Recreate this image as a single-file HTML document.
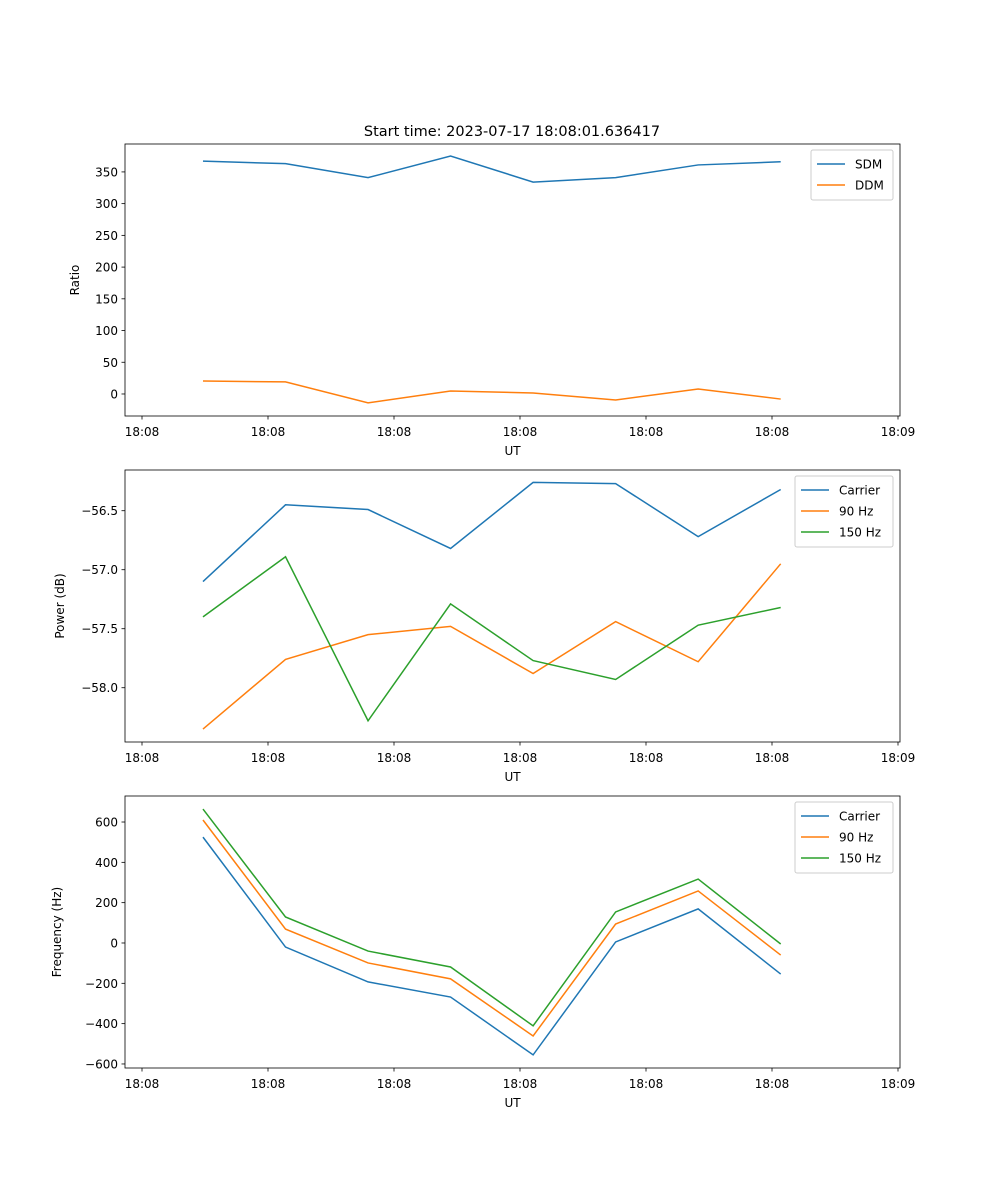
<!DOCTYPE html>
<html><head><meta charset="utf-8"><style>
body{margin:0;background:#fff}
svg{display:block;font-family:"DejaVu Sans","Liberation Sans",sans-serif}
</style></head><body>
<svg id="fig" width="1000" height="1200" viewBox="0 0 1000 1200"></svg>
<script>
const times = [4.84, 11.39, 17.94, 24.49, 31.04, 37.59, 44.14, 50.69];
const xTickVals = [0, 10, 20, 30, 40, 50, 60];
const xTickLabels = ["18:08","18:08","18:08","18:08","18:08","18:08","18:09"];
const sdm = [367, 363, 341, 375, 334, 341, 361, 366];
const ddm = [20.5, 19, -14, 4.7, 1.6, -9.5, 7.9, -8];
const pCarrier = [-57.10, -56.45, -56.49, -56.82, -56.26, -56.27, -56.72, -56.32];
const p90 = [-58.35, -57.76, -57.55, -57.48, -57.88, -57.44, -57.78, -56.95];
const p150 = [-57.40, -56.89, -58.28, -57.29, -57.77, -57.93, -57.47, -57.32];
const fCarrier = [525, -20, -193, -268, -555, 5, 169, -154];
const f90 = [610, 69, -99, -178, -461, 94, 258, -60];
const f150 = [664, 129, -40, -119, -411, 154, 317, -5];
const ticks1 = [0,50,100,150,200,250,300,350];
const ticks2 = [-58.0,-57.5,-57.0,-56.5];
const ticks3 = [-600,-400,-200,0,200,400,600];

const NS="http://www.w3.org/2000/svg";
const svg=document.getElementById('fig');
function mk(tag,attrs,parent){const e=document.createElementNS(NS,tag);for(const k in attrs)e.setAttribute(k,attrs[k]);(parent||svg).appendChild(e);return e;}
const L=125,R=900;
const xs=t=>142+(t-0)*(898-142)/60;
const C=['#1f77b4','#ff7f0e','#2ca02c'];

function panel(name,top,bot,ymin,ymax,yticks,fmt,ylabel,series,labels,legW){
  const g=mk('g',{});
  
  
  const ys=v=>bot-(v-ymin)*(bot-top)/(ymax-ymin);
  xTickVals.forEach((t,i)=>{
    const x=xs(t);
    mk('line',{x1:x,x2:x,y1:bot,y2:bot+3.5,stroke:'#000','stroke-width':0.8},g);
    const tx=mk('text',{x:x,y:bot+20,'text-anchor':'middle','font-size':12},g);tx.textContent=xTickLabels[i];
  });
  yticks.forEach(v=>{
    const y=ys(v);
    mk('line',{x1:L-3.5,x2:L,y1:y,y2:y,stroke:'#000','stroke-width':0.8},g);
    const tx=mk('text',{x:L-7,y:y+4.5,'text-anchor':'end','font-size':12},g);tx.textContent=fmt(v);
  });
  const xl=mk('text',{x:(L+R)/2,y:bot+39,'text-anchor':'middle','font-size':12},g);xl.textContent='UT';
  
  const yl=mk('text',{x:0,y:0,'text-anchor':'middle','font-size':12,transform:`translate(${L-ylabelOff(ylabel)},${(top+bot)/2}) rotate(-90)`},g);yl.textContent=ylabel;
  
  series.forEach((s,i)=>{
    const p=mk('polyline',{points:s.map((v,j)=>xs(times[j])+','+ys(v)).join(' '),fill:'none',stroke:C[i],'stroke-width':1.5},g);
    
    
  });
  mk('rect',{x:L,y:top,width:R-L,height:bot-top,fill:'none',stroke:'#000','stroke-width':0.8},g);
  const lg=mk('g',{},g);
  
  
  const lx=R-7-legW,ly=top+6;
  mk('rect',{x:lx,y:ly,width:legW,height:8+labels.length*21,fill:'#fff',stroke:'#ccc',rx:2},lg);
  labels.forEach((lab,i)=>{
    const yy=ly+14+i*21;
    mk('line',{x1:lx+6,x2:lx+34,y1:yy,y2:yy,stroke:C[i],'stroke-width':1.5},lg);
    const t=mk('text',{x:lx+44,y:yy+4.5,'font-size':12},lg);t.textContent=lab;
  });
}
function ylabelOff(l){return l==='Ratio'?46:(l==='Power (dB)'?61:64);}
const m=v=>String(v).replace('-','\u2212');
const title=mk('text',{x:512,y:136,'text-anchor':'middle','font-size':14.5});title.textContent='Start time: 2023-07-17 18:08:01.636417';


panel('ratio-panel',144,416,-34.7,394,ticks1,v=>m(v),'Ratio',[sdm,ddm],['SDM','DDM'],82);
panel('power-panel',470,742,-58.46,-56.155,ticks2,v=>m(v.toFixed(1)),'Power (dB)',[pCarrier,p90,p150],['Carrier','90 Hz','150 Hz'],98);
panel('frequency-panel',796,1068,-620,729,ticks3,v=>m(v),'Frequency (Hz)',[fCarrier,f90,f150],['Carrier','90 Hz','150 Hz'],98);
</script>
</body></html>
